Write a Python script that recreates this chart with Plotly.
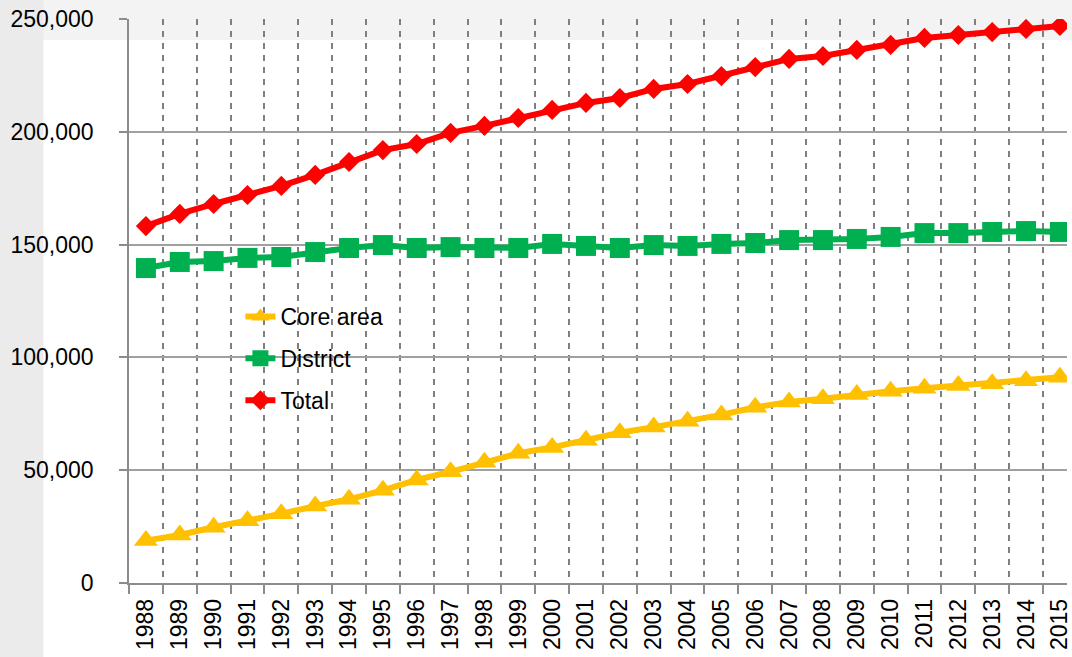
import plotly.graph_objects as go

# ---- data ----
years = [str(y) for y in range(1988, 2016)]

core_area = [18.8, 21.3, 24.7, 27.6, 30.7, 34.1, 37.1, 41.1, 45.7, 49.3,
             53.5, 57.5, 60.1, 63.3, 66.6, 69.1, 71.7, 74.5, 77.9, 80.2,
             81.7, 83.6, 85.0, 86.3, 87.5, 88.3, 89.7, 91.2]
district = [139.6, 142.3, 142.7, 144.1, 144.5, 146.7, 148.5, 149.8, 148.5, 148.9,
            148.5, 148.5, 150.3, 149.4, 148.5, 149.8, 149.4, 150.3, 150.7, 152.0,
            152.0, 152.5, 153.4, 155.1, 155.1, 155.6, 156.0, 155.6]
total = [158.2, 163.6, 168.0, 172.0, 176.0, 180.9, 186.6, 191.9, 194.6, 199.5,
         202.6, 206.1, 209.7, 212.8, 215.0, 219.0, 221.2, 224.7, 228.7, 232.3,
         233.6, 236.3, 238.5, 241.6, 242.9, 244.2, 245.6, 246.9]

core_area = [v * 1000 for v in core_area]
district = [v * 1000 for v in district]
total = [v * 1000 for v in total]

y_ticks = [0, 50000, 100000, 150000, 200000, 250000]

FONT = "Liberation Sans"
FS = 23
W, H = 1072, 657
ML, MT, MB = 129, 19, 74
PW, PH = W - ML, H - MT - MB


def px_x(p):
    return (p - ML) / PW


def px_y(p):
    return (H - MB - p) / PH


fig = go.Figure()
fig.add_trace(go.Scatter(
    x=years, y=core_area, name="Core area", mode="lines+markers",
    legendgroup="a",
    line=dict(color="#FFC000", width=6),
    marker=dict(symbol="triangle-up", size=21, color="#FFC000"),
))
fig.add_trace(go.Scatter(
    x=years, y=district, name="District", mode="lines+markers",
    legendgroup="b",
    line=dict(color="#00B050", width=6),
    marker=dict(symbol="square", size=20, color="#00B050"),
))
fig.add_trace(go.Scatter(
    x=years, y=total, name="Total", mode="lines+markers",
    legendgroup="c",
    line=dict(color="#FF0000", width=6),
    marker=dict(symbol="diamond", size=15.5, color="#FF0000"),
))

shapes = [
    # faint photo background: left strip
    dict(type="rect", xref="paper", yref="paper", layer="below",
         x0=px_x(-20), x1=px_x(43), y0=px_y(700), y1=px_y(-20),
         fillcolor="#ebebeb", line=dict(width=0)),
    # white chart panel
    dict(type="rect", xref="paper", yref="paper", layer="below",
         x0=px_x(43), x1=px_x(1100), y0=px_y(700), y1=px_y(40),
         fillcolor="white", line=dict(width=0)),
    # legend box (covers gridlines)
    dict(type="rect", xref="paper", yref="paper", layer="between",
         x0=px_x(161), x1=px_x(445), y0=px_y(421), y1=px_y(297),
         fillcolor="white", line=dict(width=0)),
]

fig.update_layout(
    width=W, height=H,
    margin=dict(l=ML, r=0, t=MT, b=MB, pad=0),
    paper_bgcolor="#f3f3f3",
    plot_bgcolor="rgba(0,0,0,0)",
    font=dict(family=FONT, size=FS, color="#000000"),
    shapes=shapes,
    showlegend=True,
    legend=dict(
        x=px_x(241), y=px_y(295), xanchor="left", yanchor="top",
        bgcolor="rgba(0,0,0,0)", borderwidth=0,
        traceorder="grouped", tracegroupgap=9,
        font=dict(family=FONT, size=FS, color="#000000"),
    ),
)

fig.update_xaxes(
    type="category", range=[-0.5, 27.21],
    tickson="boundaries", ticks="outside", ticklen=9,
    tickcolor="#8c8c8c", tickwidth=1.5,
    showgrid=True, gridcolor="#7f7f7f", gridwidth=2, griddash="6px,6px",
    showline=True, linecolor="#8c8c8c", linewidth=1.5,
    tickangle=-90, tickfont=dict(family=FONT, size=FS, color="#000000"),
    ticklabelstandoff=5,
    fixedrange=True,
)
fig.update_yaxes(
    range=[0, 250000], tickvals=y_ticks, tickformat=",",
    ticks="outside", ticklen=8, tickcolor="#8c8c8c", tickwidth=1.5,
    showgrid=True, gridcolor="#a0a0a0", gridwidth=1.5,
    showline=True, linecolor="#8c8c8c", linewidth=1.5,
    zeroline=False,
    tickfont=dict(family=FONT, size=FS, color="#000000"),
    ticklabelstandoff=21,
    fixedrange=True,
)

fig.write_html(
    "out.html",
    config={"displayModeBar": False},
    post_script="document.body.style.margin='0';"
                "document.body.style.background='#f3f3f3';",
)
